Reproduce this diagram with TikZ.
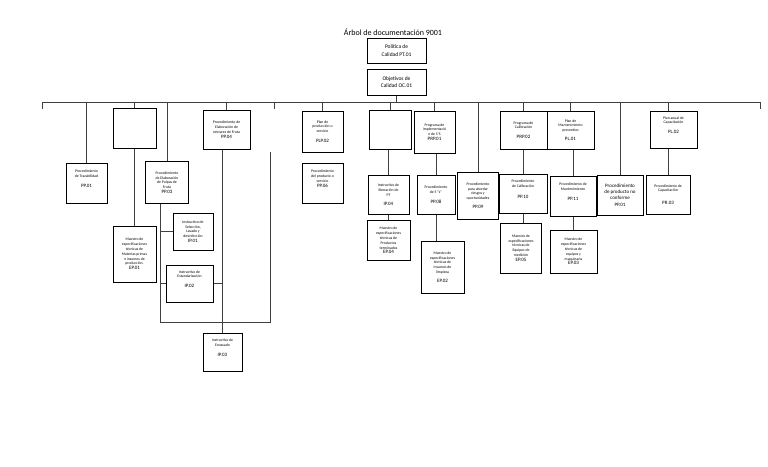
\documentclass[tikz,border=0pt]{standalone}
\usepackage{fontspec}
\setmainfont{Carlito}
\usetikzlibrary{positioning}
\newcommand{\docid}[1]{{\fontsize{5}{6}\selectfont #1}}

\begin{document}
\begin{tikzpicture}[
  x=1pt, y=-1pt,
  doc/.style={draw, line width=1pt, inner sep=1pt, align=center, font=\fontsize{3.8}{4.8}\selectfont},
  raised/.style={text depth=9pt},
  head/.style={doc, minimum width=59, font=\fontsize{5.5}{7.5}\selectfont},
  link/.style={line width=1pt, draw=black!75}
]
\useasboundingbox (0,0) rectangle (768,466);

\node[font=\fontsize{8}{9}\selectfont] (title) at (393,32) {Árbol de documentación 9001};
\node[head, minimum height=25] (pt01) at (396.5,50.5) {Política de\\Calidad PT.01};
\node[head, minimum height=26] (oc01) at (396.5,82) {Objetivos de\\Calidad OC.01};

% rama de producción
\node[doc, raised, minimum width=41, minimum height=40] (pp01a) at (86.5,183) {Procedimiento\\de Trazabilidad\\[5pt]\docid{PP.01}};
\node[doc, minimum width=43, minimum height=40] (e1) at (134.5,128) {};
\node[doc, minimum width=43, minimum height=56] (ep01) at (134.5,254) {Maestro de\\especificaciones\\técnicas de\\Materias primas\\e insumos de\\producción.\\\docid{EP.01}};
\node[doc, minimum width=43, minimum height=42] (pp03) at (167,182.5) {Procedimiento\\de Elaboración\\de Pulpas de\\Fruta\\\docid{PP.03}};
\node[doc, minimum width=47, minimum height=39] (pp04) at (226.5,129.5) {Procedimiento de\\Elaboración de\\néctares de Fruta\\\docid{PP.04}};
\node[doc, minimum width=40, minimum height=37] (ip01) at (193,231.5) {Instructivo de\\Selección,\\Lavado y\\desinfección\\\docid{IP.01}};
\node[doc, raised, minimum width=47, minimum height=37] (ip02) at (189.5,283.5) {Instructivo de\\Estandarización\\[5pt]\docid{IP.02}};
\node[doc, raised, minimum width=39, minimum height=38] (ip03) at (222.5,352) {Instructivo de\\Envasado\\[5pt]\docid{IP.03}};

% servicio y producto terminado
\node[doc, minimum width=41, minimum height=41] (plp02) at (322.5,131.5) {Plan de\\producción o\\servicio\\[5pt]\docid{PLP.02}};
\node[doc, raised, minimum width=41, minimum height=40] (pp06) at (322.5,183) {Procedimiento\\del producto o\\servicio\\\docid{PP.06}};
\node[doc, minimum width=42, minimum height=39] (e2) at (390,129.5) {};
\node[doc, minimum width=41, minimum height=39] (ip04) at (388.5,194.5) {Instructivo de\\liberación de\\PT\\[4pt]\docid{IP.04}};
\node[doc, minimum width=43, minimum height=40] (ep04) at (388.5,240.5) {Maestro de\\especificaciones\\técnicas de\\Productos\\terminados\\\docid{EP.04}};
\node[doc, minimum width=41, minimum height=42] (prp01) at (434.5,132) {Programa de\\implementació\\n de 5'S\\\docid{PRP.01}};
\node[doc, minimum width=38, minimum height=39] (pp08) at (436,194.5) {Procedimiento\\de 5 ``s''\\[5pt]\docid{PP.08}};
\node[doc, minimum width=43, minimum height=52] (ep02) at (442.5,267) {Maestro de\\especificaciones\\técnicas de\\insumos de\\limpieza\\[4pt]\docid{EP.02}};
\node[doc, minimum width=41.5, minimum height=47] (pp09) at (478,195.5) {Procedimiento\\para abordar\\riesgos y\\oportunidades\\[4pt]\docid{PP.09}};

% equipos y capacitación
\node[doc, minimum width=47, minimum height=38] (prp02) at (523.5,130) {Programa de\\Calibración\\[5pt]\docid{PRP.02}};
\node[doc, minimum width=47, minimum height=38] (pl01) at (570.5,130) {Plan de\\Mantenimiento\\preventivo\\[4pt]\docid{PL.01}};
\node[doc, raised, minimum width=48, minimum height=39] (pp10) at (523,193.5) {Procedimiento\\de Calibración\\[6pt]\docid{PP.10}};
\node[doc, minimum width=41, minimum height=50] (ep05) at (521,248) {Maestro de\\especificaciones\\técnicas de\\Equipos de\\medición\\\docid{EP.05}};
\node[doc, raised, minimum width=46, minimum height=40] (pp11) at (573,196) {Procedimiento de\\Mantenimiento\\[5pt]\docid{PP.11}};
\node[doc, minimum width=47, minimum height=43] (ep03) at (573.5,251.5) {Maestro de\\especificaciones\\técnicas de\\equipos y\\maquinaria\\\docid{EP.03}};
\node[doc, minimum width=46, minimum height=40, font=\fontsize{5}{6.3}\selectfont] (pp01b) at (620,195) {Procedimiento\\de producto no\\conforme\\\docid{PP.01}};
\node[doc, raised, minimum width=47, minimum height=37] (pl02) at (673.5,129.5) {Plan anual de\\Capacitación\\[5pt]\docid{PL.02}};
\node[doc, minimum width=44, minimum height=39] (pr03) at (668,194.5) {Procedimiento de\\Capacitación\\[8pt]\docid{PR.03}};

\coordinate (busL) at (42,102);
\coordinate (busR) at (760,102);
\coordinate (tickL) at (42,109);
\coordinate (tickM) at (274,109);
\coordinate (tickR) at (760,109);
\coordinate (loopBL) at (160,322);
\coordinate (loopBR) at (270,322);
\coordinate (loopTR) at (270,152);

\draw[link] (oc01.south) -- (oc01.south |- busL);
\draw[link] (tickL) -- (busL) -- (busR) -- (tickR);
\draw[link] (tickM |- busL) -- (tickM);

\draw[link] (pp01a.north |- busL) -- (pp01a.north);
\draw[link] (e1.north |- busL) -- (e1.north);
\draw[link] (e1.south) -- (e1.south |- ep01.north);
\draw[link] (pp03.north |- busL) -- (pp03.north);
\draw[link] (pp04.north |- busL) -- (pp04.north);
\draw[link] (pp03.south -| loopBL) -- (loopBL) -- (loopBR) -- (loopTR);
\draw[link] (ip01.west) -- (ip01.west -| loopBL);
\draw[link] (ip02.west) -- (ip02.west -| loopBL);
\draw[link] (ip02.east) -- (ip02.east -| ip03.north);
\draw[link] (pp04.south -| ip03.north) -- (ip03.north);

\draw[link] (plp02.north |- busL) -- (plp02.north);
\draw[link] (e2.north |- busL) -- (e2.north);
\draw[link] (ip04.north |- e2.south) -- (ip04.north);
\draw[link] (ip04.south) -- (ip04.south |- ep04.north);
\draw[link] (prp01.north |- busL) -- (prp01.north);
\draw[link] (pp08.north |- prp01.south) -- (pp08.north);
\draw[link] (pp08.south) -- (pp08.south |- ep02.north);
\draw[link] (pp09.north |- busL) -- (pp09.north);

\draw[link] (prp02.north |- busL) -- (prp02.north);
\draw[link] (pl01.north |- busL) -- (pl01.north);
\draw[link] (pp10.north |- prp02.south) -- (pp10.north);
\draw[link] (pp10.south) -- (pp10.south |- ep05.north);
\draw[link] (pp11.north |- pl01.south) -- (pp11.north);
\draw[link] (pp11.south) -- (pp11.south |- ep03.north);
\draw[link] (pp01b.north |- busL) -- (pp01b.north);
\draw[link] (pr03.north |- busL) -- (pr03.north |- pl02.north);
\draw[link] (pr03.north |- pl02.south) -- (pr03.north);

\end{tikzpicture}
\end{document}
